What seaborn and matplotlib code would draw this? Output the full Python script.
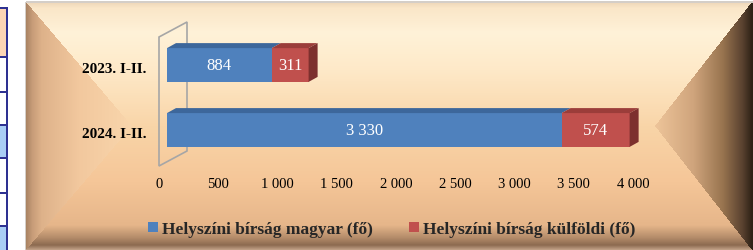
import numpy as np
import pandas as pd
import matplotlib
matplotlib.use("Agg")
import matplotlib.pyplot as plt
import seaborn as sns
from matplotlib.patches import Polygon, Patch
from matplotlib.transforms import ScaledTranslation
from matplotlib.colors import to_rgb

# ---------------- data ----------------
categories = ["2023. I-II.", "2024. I-II."]
magyar = [884, 3330]
kulfoldi = [311, 574]
magyar_labels = ["884", "3 330"]
kulfoldi_labels = ["311", "574"]
series_names = ["Helyszíni bírság magyar (fő)", "Helyszíni bírság külföldi (fő)"]
x_ticks = [0, 500, 1000, 1500, 2000, 2500, 3000, 3500, 4000]
x_tick_labels = ["0", "500", "1 000", "1 500", "2 000", "2 500", "3 000", "3 500", "4 000"]

# ---------------- style ----------------
W, H, DPI = 753, 251, 100
BLUE, RED = "#4f81bd", "#c0504d"
BLUE_TOP, RED_TOP, RED_SIDE = "#3d679b", "#9b3d3a", "#7d302e"

sns.set_theme(style="white")
plt.rcParams['font.family'] = ['Liberation Serif', 'DejaVu Serif']

fig = plt.figure(figsize=(W / DPI, H / DPI), dpi=DPI)


def ramp(t, stops):
    pos = np.array([s[0] for s in stops])
    cols = np.array([to_rgb(s[1]) for s in stops])
    return np.stack([np.interp(t, pos, cols[:, k]) for k in range(3)], axis=-1)


def make_background():
    yy, xx = np.mgrid[0:H, 0:W] + 0.5
    img = np.ones((H, W, 3))
    fx0, fx1, fy0, fy1 = 26, 752, 3, 251
    midy, lax, rax = 127, 132, 655
    frame = (xx >= fx0) & (yy >= fy0)
    xl = np.where(yy <= midy, fx0 + (yy - fy0) * (lax - fx0) / (midy - fy0),
                  fx0 + (fy1 - yy) * (lax - fx0) / (fy1 - midy))
    xr = np.where(yy <= midy, fx1 - (yy - fy0) * (fx1 - rax) / (midy - fy0),
                  fx1 - (fy1 - yy) * (fx1 - rax) / (fy1 - midy))
    left = frame & (xx < xl)
    right = frame & (xx > xr)
    top = frame & ~left & ~right & (yy <= midy)
    bottom = frame & ~left & ~right & (yy > midy)

    s_left = np.clip((xx - fx0) / (lax - fx0), 0, 1)
    c_left = ramp(s_left, [(0, "#a88262"), (0.06, "#c79c78"), (0.15, "#deb28a"),
                           (0.5, "#f2c89e"), (1, "#f9d6ac")])
    s_right = np.clip((fx1 - xx) / (fx1 - rax), 0, 1)
    c_right = ramp(s_right, [(0, "#2e2216"), (0.1, "#5a4230"), (0.3, "#98744f"),
                             (0.6, "#cfa47c"), (1, "#eec59a")])
    t_top = np.clip((yy - fy0) / (midy - fy0), 0, 1)
    c_top = ramp(t_top, [(0, "#eed6b8"), (0.05, "#fae6c8"), (0.25, "#fff2d8"),
                         (0.55, "#fee9c8"), (1, "#f9d5a8")])
    t_bot = np.clip((yy - midy) / (fy1 - midy), 0, 1)
    c_bot = ramp(t_bot, [(0, "#f9d5a8"), (0.45, "#f5c698"), (0.8, "#e6b68a"),
                         (0.9, "#b48c6a"), (0.96, "#8c6a50"), (1, "#c4a48a")])
    img[left] = c_left[left]
    img[right] = c_right[right]
    img[top] = c_top[top]
    img[bottom] = c_bot[bottom]
    # frame border
    img[fy0 - 1:fy0 + 1, fx0:] = to_rgb("#d4cec8")
    img[fy0:, fx0 - 1:fx0] = to_rgb("#d4cec8")

    # table fragment on the far left
    rows = [8, 57, 92, 125, 158, 193, 226, 251]
    fills = ["#fcd5b4", "#ffffff", "#ffffff", "#a9cdf5", "#ffffff", "#ffffff", "#a9cdf5"]
    for (r0, r1), c in zip(zip(rows[:-1], rows[1:]), fills):
        img[r0:r1, 0:6] = to_rgb(c)
    navy = to_rgb("#2e3192")
    for r in rows[:-1]:
        img[r:r + 2, 0:7] = navy
    img[rows[0]:, 6:8] = navy
    return img


bg = fig.add_axes([0, 0, 1, 1], zorder=-10)
bg.imshow(make_background(), extent=[0, W, H, 0], aspect="auto", interpolation="bilinear")
bg.set_xlim(0, W)
bg.set_ylim(H, 0)
bg.axis("off")

# ---------------- main axes ----------------
ax_l, ax_r, ax_t, ax_b = 167, 641, 20, 172
ax = fig.add_axes([ax_l / W, 1 - ax_b / H, (ax_r - ax_l) / W, (ax_b - ax_t) / H])
ax.patch.set_alpha(0)

df = pd.DataFrame({"cat": categories, "magyar": magyar, "kulfoldi": kulfoldi})
df["total"] = df["magyar"] + df["kulfoldi"]

sns.barplot(data=df, y="cat", x="total", color=RED, saturation=1, width=0.52,
            linewidth=0, orient="h", ax=ax, zorder=3)
n_red = len(ax.patches)
sns.barplot(data=df, y="cat", x="magyar", color=BLUE, saturation=1, width=0.52,
            linewidth=0, orient="h", ax=ax, zorder=4)
red_patches = ax.patches[:n_red]
blue_patches = ax.patches[n_red:]

ax.set_xlim(0, 4000)
ax.set_ylim(1.631, -0.708)
for s in ax.spines.values():
    s.set_visible(False)
ax.set_xlabel("")
ax.set_ylabel("")
ax.grid(False)

ax.set_xticks(x_ticks, x_tick_labels)
ax.tick_params(axis="x", length=0, pad=4, labelsize=10.5, colors="black")
ax.tick_params(axis="y", length=0, pad=15, labelsize=11, colors="black")
for lab in ax.get_yticklabels():
    lab.set_fontweight("bold")
shift = ScaledTranslation(-8 / DPI, 0, fig.dpi_scale_trans)
for lab in ax.get_xticklabels():
    lab.set_transform(lab.get_transform() + shift)
yshift = ScaledTranslation(0, -2 / DPI, fig.dpi_scale_trans)
for lab in ax.get_yticklabels():
    lab.set_transform(lab.get_transform() + yshift)

# value labels
for i in range(len(categories)):
    ax.text(magyar[i] / 2, i, magyar_labels[i], ha="center", va="center",
            color="white", fontsize=12, zorder=6)
    ax.text(magyar[i] + kulfoldi[i] / 2, i, kulfoldi_labels[i], ha="center", va="center",
            color="white", fontsize=12, zorder=6)

# ---------------- 3D faces derived from bar patches ----------------
DX, DY = 9, 5
fig.canvas.draw()
to_disp = ax.transData.transform


def fig_poly(verts, color, z):
    v = np.array(verts, dtype=float) / np.array([W, H])
    fig.add_artist(Polygon(v, closed=True, facecolor=color, edgecolor="none",
                           transform=fig.transFigure, zorder=z))


for rp, bp in zip(red_patches, blue_patches):
    (x0, ya), (xb, yb_) = to_disp([(bp.get_x(), bp.get_y()),
                                   (bp.get_x() + bp.get_width(), bp.get_y() + bp.get_height())])
    xt = to_disp([(rp.get_x() + rp.get_width(), rp.get_y())])[0][0]
    ytop, ybot = max(ya, yb_), min(ya, yb_)
    fig_poly([(x0, ytop), (xb, ytop), (xb + DX, ytop + DY), (x0 + DX, ytop + DY)], BLUE_TOP, 2)
    fig_poly([(xb, ytop), (xt, ytop), (xt + DX, ytop + DY), (xb + DX, ytop + DY)], RED_TOP, 2)
    fig_poly([(xt, ybot), (xt + DX, ybot + DY), (xt + DX, ytop + DY), (xt, ytop)], RED_SIDE, 2)

# back wall outline derived from the axis origin
ox = to_disp([(0, 0)])[0][0]
wall = np.array([(ox - 8, H - 167), (ox - 8, H - 38), (ox + 20, H - 23), (ox + 20, H - 152)])
fig.add_artist(Polygon(wall / np.array([W, H]), closed=True, facecolor="none",
                       edgecolor="#a6a6a6", linewidth=1.2, transform=fig.transFigure, zorder=-1))

# ---------------- legend ----------------
handles = [Patch(facecolor=BLUE, edgecolor="none"), Patch(facecolor=RED, edgecolor="none")]
fig.legend(handles, series_names, loc="center", bbox_to_anchor=(392 / W, 1 - 230 / H),
           ncol=2, frameon=False, prop={"weight": "bold", "size": 12.5},
           handlelength=0.55, handleheight=0.55, handletextpad=0.25, columnspacing=2.1,
           borderpad=0, borderaxespad=0)

fig.savefig("out.png", dpi=DPI)
